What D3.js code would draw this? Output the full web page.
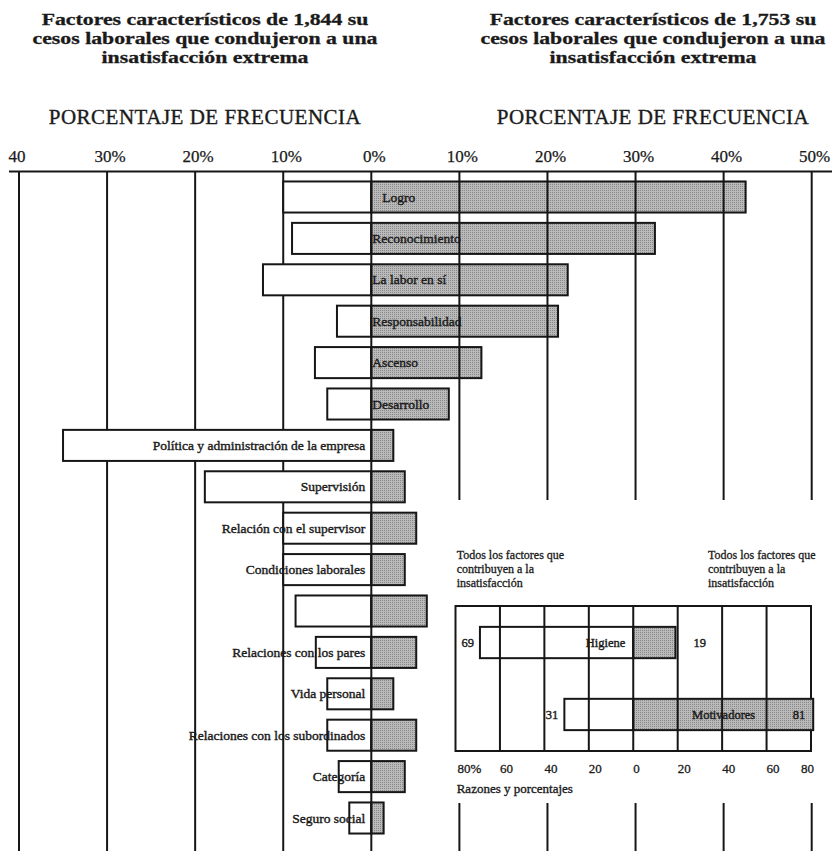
<!DOCTYPE html>
<html>
<head>
<meta charset="utf-8">
<script src="https://cdn.jsdelivr.net/npm/d3@7"></script>
<style>
  html, body { margin: 0; padding: 0; background: #fff; }
  svg { display: block; }
  text { font-family: "Liberation Serif", "Times New Roman", serif; fill: #1a1a1a; }
</style>
</head>
<body>
<script>
// Frequency of factors in events leading to extreme dissatisfaction (left, white)
// and extreme satisfaction (right, shaded), in percent.
const factors = [
  "Logro", "Reconocimiento", "La labor en sí", "Responsabilidad", "Ascenso", "Desarrollo",
  "Política y administración de la empresa", "Supervisión", "Relación con el supervisor",
  "Condiciones laborales", "", "Relaciones con los pares", "Vida personal",
  "Relaciones con los subordinados", "Categoría", "Seguro social"
];
const leftValues  = [10, 9, 12.3, 3.9, 6.4, 5, 35, 18.9, 10, 10, 8.6, 6.3, 5, 5, 3.7, 2.5];
const rightValues = [42.5, 32.2, 22.3, 21.2, 12.5, 8.8, 2.5, 3.8, 5.1, 3.8, 6.3, 5.1, 2.5, 5.1, 3.8, 1.4];
const motivatorCount = 6;

const mainTicks = [-40, -30, -20, -10, 0, 10, 20, 30, 40, 50];
const mainTickLabels = ["40", "30%", "20%", "10%", "0%", "10%", "20%", "30%", "40%", "50%"];

const titleLeft = ["Factores característicos de 1,844 su", "cesos laborales que condujeron a una", "insatisfacción extrema"];
const titleRight = ["Factores característicos de 1,753 su", "cesos laborales que condujeron a una", "insatisfacción extrema"];
const subtitle = "PORCENTAJE DE FRECUENCIA";

// Summary panel: all factors contributing, split into hygiene and motivators.
const summaryGroups = ["Higiene", "Motivadores"];
const summaryLeft = [69, 31];
const summaryRight = [19, 81];
const summaryTicks = [-80, -60, -40, -20, 0, 20, 40, 60, 80];
const summaryTickLabels = ["80%", "60", "40", "20", "0", "20", "40", "60", "80"];
const summaryHeader = ["Todos los factores que", "contribuyen a la", "insatisfacción"];
const summaryAxisTitle = "Razones y porcentajes";

const W = 834, H = 851;
const svg = d3.select("body").append("svg").attr("width", W).attr("height", H);

// fine stipple used for the shaded bars
const defs = svg.append("defs");
const pat = defs.append("pattern").attr("id", "stipple")
  .attr("width", 2).attr("height", 2).attr("patternUnits", "userSpaceOnUse");
pat.append("rect").attr("width", 2).attr("height", 2).attr("fill", "#bababa");
pat.append("rect").attr("width", 1).attr("height", 1).attr("fill", "#888");

const x = d3.scaleLinear().domain([-40, 50]).range([19, 811.7]);
const y = d3.scaleBand().domain(d3.range(factors.length))
  .range([176.3, 838.7]).paddingInner(0.25).paddingOuter(0.125);

const axisY = 171.5;
const ink = "#161616";

// titles: a wide, heavy serif, set tight
function drawTitle(lines, cx) {
  const g = svg.append("g").attr("transform", `translate(${cx},0) scale(1.32,1)`);
  const t = g.append("text").attr("text-anchor", "middle")
    .style("font-size", "16.5px").style("font-weight", "bold")
    .attr("stroke", "#1a1a1a").attr("stroke-width", 0.3);
  lines.forEach((s, i) => t.append("tspan").attr("x", 0).attr("y", 25 + i * 19).text(s));
  svg.append("text").attr("x", cx).attr("y", 124).attr("text-anchor", "middle")
    .style("font-size", "21px").style("letter-spacing", "0.5px")
    .attr("stroke", "#1a1a1a").attr("stroke-width", 0.35)
    .text(subtitle);
}
drawTitle(titleLeft, 205);
drawTitle(titleRight, 653);

// tick labels and top rule
svg.selectAll("text.tick").data(mainTicks).enter().append("text")
  .attr("class", "tick")
  .attr("x", d => x(d) + (d === -40 ? -2 : 3))
  .attr("y", 162).attr("text-anchor", "middle")
  .style("font-size", "17px")
  .attr("stroke", "#1a1a1a").attr("stroke-width", 0.25)
  .text((d, i) => mainTickLabels[i]);

svg.append("line").attr("x1", 9).attr("x2", 832).attr("y1", axisY).attr("y2", axisY)
  .attr("stroke", ink).attr("stroke-width", 2);

// grid lines left of zero sit beneath the white bars
svg.selectAll("line.gneg").data(mainTicks.filter(d => d < 0)).enter().append("line")
  .attr("class", "gneg")
  .attr("x1", d => x(d)).attr("x2", d => x(d))
  .attr("y1", axisY).attr("y2", H)
  .attr("stroke", ink).attr("stroke-width", 2);

// bars
const bw = y.bandwidth();
svg.selectAll("rect.left").data(leftValues).enter().append("rect")
  .attr("class", "left")
  .attr("x", d => x(-d)).attr("width", d => x(0) - x(-d))
  .attr("y", (d, i) => y(i)).attr("height", bw)
  .attr("fill", "#fff").attr("stroke", ink).attr("stroke-width", 2);

svg.selectAll("rect.right").data(rightValues).enter().append("rect")
  .attr("class", "right")
  .attr("x", x(0)).attr("width", d => x(d) - x(0))
  .attr("y", (d, i) => y(i)).attr("height", bw)
  .attr("fill", "url(#stipple)").attr("stroke", ink).attr("stroke-width", 2);

// zero line and grid lines right of zero (interrupted around the summary panel)
svg.append("line").attr("x1", x(0)).attr("x2", x(0)).attr("y1", axisY).attr("y2", H)
  .attr("stroke", ink).attr("stroke-width", 2);
const posTicks = mainTicks.filter(d => d > 0);
[[axisY, 500], [803, H]].forEach(([a, b]) => {
  svg.append("g").selectAll("line").data(posTicks).enter().append("line")
    .attr("x1", d => x(d)).attr("x2", d => x(d))
    .attr("y1", a).attr("y2", b)
    .attr("stroke", ink).attr("stroke-width", 2);
});

// factor labels
svg.selectAll("text.factor").data(factors).enter().append("text")
  .attr("class", "factor")
  .attr("x", (d, i) => i < motivatorCount ? x(0) + (i === 0 ? 11 : 1) : x(0) - 6)
  .attr("y", (d, i) => y(i) + bw / 2 + 4.5)
  .attr("text-anchor", (d, i) => i < motivatorCount ? "start" : "end")
  .style("font-size", "13.5px")
  .attr("stroke", "#1a1a1a").attr("stroke-width", 0.4)
  .text(d => d);

// ---- summary panel ----
const sx = d3.scaleLinear().domain([-80, 80]).range([455.5, 811]);
const boxTop = 606, boxBottom = 751;
const sy = d3.scaleBand().domain(summaryGroups).range([boxTop, boxBottom])
  .paddingInner(0.565).paddingOuter(0.29);
const sbw = sy.bandwidth();

[456.7, 708].forEach(x0 => {
  const t = svg.append("text").style("font-size", "12px")
    .attr("stroke", "#1a1a1a").attr("stroke-width", 0.3);
  summaryHeader.forEach((s, i) => t.append("tspan").attr("x", x0).attr("y", 559 + i * 14).text(s));
});

svg.append("rect").attr("x", sx(-80)).attr("y", boxTop)
  .attr("width", sx(80) - sx(-80)).attr("height", boxBottom - boxTop)
  .attr("fill", "#fff").attr("stroke", ink).attr("stroke-width", 2);

svg.selectAll("rect.sl").data(summaryLeft).enter().append("rect")
  .attr("class", "sl")
  .attr("x", d => sx(-d)).attr("width", d => sx(0) - sx(-d))
  .attr("y", (d, i) => sy(summaryGroups[i])).attr("height", sbw)
  .attr("fill", "#fff").attr("stroke", ink).attr("stroke-width", 2);
svg.selectAll("rect.sr").data(summaryRight).enter().append("rect")
  .attr("class", "sr")
  .attr("x", sx(0)).attr("width", d => sx(d) - sx(0))
  .attr("y", (d, i) => sy(summaryGroups[i])).attr("height", sbw)
  .attr("fill", "url(#stipple)").attr("stroke", ink).attr("stroke-width", 2);

svg.selectAll("line.sg").data(summaryTicks.filter(d => Math.abs(d) < 80)).enter().append("line")
  .attr("class", "sg")
  .attr("x1", d => sx(d)).attr("x2", d => sx(d))
  .attr("y1", boxTop).attr("y2", boxBottom)
  .attr("stroke", ink).attr("stroke-width", 2);

const lblStyle = s => s.style("font-size", "12.5px").attr("stroke", "#1a1a1a").attr("stroke-width", 0.4);
summaryGroups.forEach((g, i) => {
  const cy = sy(g) + sbw / 2 + 4.5;
  lblStyle(svg.append("text").attr("x", sx(-summaryLeft[i]) - 6).attr("y", cy)
    .attr("text-anchor", "end").text(summaryLeft[i]));
});
// group names and right-hand values
lblStyle(svg.append("text").attr("x", sx(0) - 8).attr("y", sy("Higiene") + sbw / 2 + 4.5)
  .attr("text-anchor", "end").text("Higiene"));
lblStyle(svg.append("text").attr("x", sx(summaryRight[0]) + 18).attr("y", sy("Higiene") + sbw / 2 + 4.5)
  .attr("text-anchor", "start").text(summaryRight[0]));
lblStyle(svg.append("text").attr("x", sx(summaryRight[1]) - 58).attr("y", sy("Motivadores") + sbw / 2 + 4.5)
  .attr("text-anchor", "end").text("Motivadores"));
lblStyle(svg.append("text").attr("x", sx(summaryRight[1]) - 8).attr("y", sy("Motivadores") + sbw / 2 + 4.5)
  .attr("text-anchor", "end").text(summaryRight[1]));

svg.selectAll("text.stick").data(summaryTicks).enter().append("text")
  .attr("class", "stick")
  .attr("x", d => sx(d) + (d === -80 ? 2 : 0) - (d === 80 ? 10 : 0))
  .attr("y", 773).attr("text-anchor", "start")
  .style("font-size", "13px")
  .attr("stroke", "#1a1a1a").attr("stroke-width", 0.3)
  .text((d, i) => summaryTickLabels[i]);

svg.append("text").attr("x", 456.7).attr("y", 793)
  .style("font-size", "13px").attr("stroke", "#1a1a1a").attr("stroke-width", 0.35)
  .text(summaryAxisTitle);
</script>
</body>
</html>
